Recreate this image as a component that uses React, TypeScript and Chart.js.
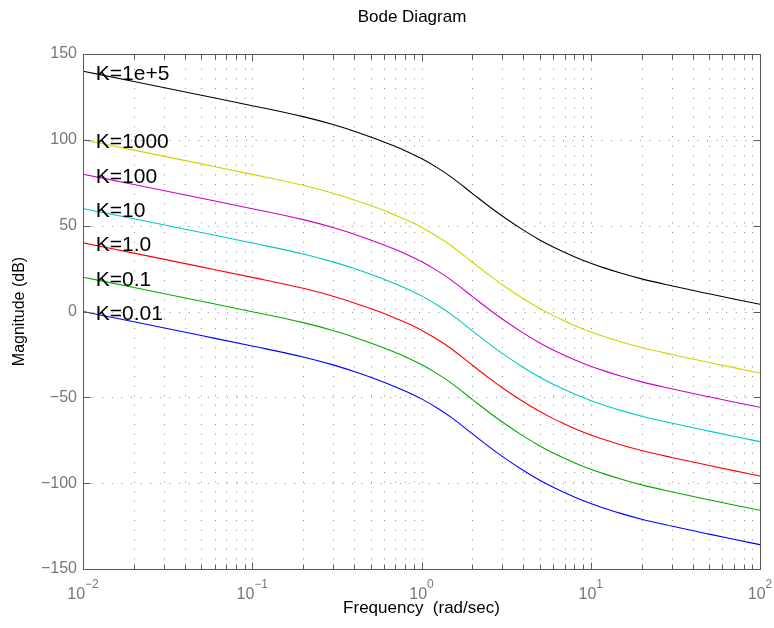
import React, { useEffect, useRef } from "react";
import { Chart, registerables } from "chart.js";

Chart.register(...registerables);

// ---- data ----
const frequencies = [0.01, 0.02, 0.05, 0.1, 0.2, 0.3, 0.4, 0.5, 0.6, 0.7, 0.8, 1, 1.25, 1.5, 2, 2.5, 3, 4, 5, 6, 7, 8, 10, 12, 15, 20, 30, 50, 70, 100];

const magK1e5 = [140.0, 134.0, 126.0, 119.9, 113.5, 108.9, 105.0, 101.7, 98.8, 96.1, 93.7, 89.1, 83.5, 78.3, 68.7, 61.3, 55.6, 47.4, 41.7, 37.6, 34.5, 31.9, 28.1, 25.4, 22.4, 19.0, 15.0, 10.3, 7.3, 4.2];
const magK1000 = [100.0, 94.0, 86.0, 79.9, 73.5, 68.9, 65.0, 61.7, 58.8, 56.1, 53.7, 49.1, 43.5, 38.3, 28.7, 21.3, 15.6, 7.4, 1.7, -2.4, -5.5, -8.1, -11.9, -14.6, -17.6, -21.0, -25.0, -29.7, -32.7, -35.8];
const magK100 = [80.0, 74.0, 66.0, 59.9, 53.5, 48.9, 45.0, 41.7, 38.8, 36.1, 33.7, 29.1, 23.5, 18.3, 8.7, 1.3, -4.4, -12.6, -18.3, -22.4, -25.5, -28.1, -31.9, -34.6, -37.6, -41.0, -45.0, -49.7, -52.7, -55.8];
const magK10 = [60.0, 54.0, 46.0, 39.9, 33.5, 28.9, 25.0, 21.7, 18.8, 16.1, 13.7, 9.1, 3.5, -1.7, -11.3, -18.7, -24.4, -32.6, -38.3, -42.4, -45.5, -48.1, -51.9, -54.6, -57.6, -61.0, -65.0, -69.7, -72.7, -75.8];
const magK1 = [40.0, 34.0, 26.0, 19.9, 13.5, 8.9, 5.0, 1.7, -1.2, -3.9, -6.3, -10.9, -16.5, -21.7, -31.3, -38.7, -44.4, -52.6, -58.3, -62.4, -65.5, -68.1, -71.9, -74.6, -77.6, -81.0, -85.0, -89.7, -92.7, -95.8];
const magK01 = [20.0, 14.0, 6.0, -0.1, -6.5, -11.1, -15.0, -18.3, -21.2, -23.9, -26.3, -30.9, -36.5, -41.7, -51.3, -58.7, -64.4, -72.6, -78.3, -82.4, -85.5, -88.1, -91.9, -94.6, -97.6, -101.0, -105.0, -109.7, -112.7, -115.8];
const magK001 = [0.0, -6.0, -14.0, -20.1, -26.5, -31.1, -35.0, -38.3, -41.2, -43.9, -46.3, -50.9, -56.5, -61.7, -71.3, -78.7, -84.4, -92.6, -98.3, -102.4, -105.5, -108.1, -111.9, -114.6, -117.6, -121.0, -125.0, -129.7, -132.7, -135.8];

const seriesNames = ["K=1e+5", "K=1000", "K=100", "K=10", "K=1.0", "K=0.1", "K=0.01"];
const seriesColors = ["#000000", "#d2d200", "#cc00cc", "#00c8c8", "#ff0000", "#00aa00", "#0000ff"];
const seriesValues = [magK1e5, magK1000, magK100, magK10, magK1, magK01, magK001];

const labelFreq = 0.0119;
const labelLevels = [138.4, 98.4, 78.4, 58.4, 38.4, 18.4, -1.6];

const yTicks = [-150, -100, -50, 0, 50, 100, 150];
const xDecadeExponents = [-2, -1, 0, 1, 2];

const titleText = "Bode Diagram";
const xTitle = "Frequency  (rad/sec)";
const yTitle = "Magnitude (dB)";

const FONT = "'Liberation Sans', Arial, Helvetica, sans-serif";

const bodePlugin = {
  id: "bodeDecor",
  beforeDatasetsDraw(chart: any) {
    const { ctx, chartArea: a, scales } = chart;
    const xs = scales.x;
    const ys = scales.y;
    ctx.save();
    ctx.strokeStyle = "#8a8a8a";
    ctx.lineWidth = 1;
    ctx.setLineDash([1, 8.6]);
    for (let d = -2; d < 2; d++) {
      for (let m = 1; m < 10; m++) {
        if (d === -2 && m === 1) continue;
        const v = m * Math.pow(10, d);
        const px = Math.round(xs.getPixelForValue(v)) + 0.5;
        ctx.beginPath();
        ctx.moveTo(px, a.bottom);
        ctx.lineTo(px, a.top);
        ctx.stroke();
      }
    }
    for (const t of yTicks) {
      if (t === yTicks[0] || t === yTicks[yTicks.length - 1]) continue;
      const py = Math.round(ys.getPixelForValue(t)) + 0.5;
      ctx.beginPath();
      ctx.moveTo(a.left, py);
      ctx.lineTo(a.right, py);
      ctx.stroke();
    }
    ctx.restore();
  },
  afterDraw(chart: any) {
    const { ctx, chartArea: a, scales } = chart;
    const xs = scales.x;
    const ys = scales.y;
    ctx.save();
    ctx.setLineDash([]);

    // series labels
    ctx.fillStyle = "#000";
    ctx.font = `21px ${FONT}`;
    ctx.textAlign = "left";
    ctx.textBaseline = "middle";
    seriesNames.forEach((n, i) => {
      ctx.fillText(n, xs.getPixelForValue(labelFreq), ys.getPixelForValue(labelLevels[i]));
    });

    // box
    ctx.strokeStyle = "#5a5a5a";
    ctx.lineWidth = 1;
    const L = Math.round(a.left) + 0.5;
    const R = Math.round(a.right) + 0.5;
    const T = Math.round(a.top) + 0.5;
    const B = Math.round(a.bottom) + 0.5;
    ctx.strokeRect(L, T, R - L, B - T);

    // x ticks
    ctx.beginPath();
    for (let d = -2; d <= 2; d++) {
      for (let m = 1; m < 10; m++) {
        if (d === 2 && m > 1) break;
        const v = m * Math.pow(10, d);
        const px = Math.round(xs.getPixelForValue(v)) + 0.5;
        const len = m === 1 ? 7 : 5;
        ctx.moveTo(px, B);
        ctx.lineTo(px, B - len);
        ctx.moveTo(px, T);
        ctx.lineTo(px, T + len);
      }
    }
    // y ticks
    for (const t of yTicks) {
      const py = Math.round(ys.getPixelForValue(t)) + 0.5;
      ctx.moveTo(L, py);
      ctx.lineTo(L + 7, py);
      ctx.moveTo(R, py);
      ctx.lineTo(R - 7, py);
    }
    ctx.stroke();

    // y tick labels
    ctx.fillStyle = "#777777";
    ctx.font = `16px ${FONT}`;
    ctx.textAlign = "right";
    ctx.textBaseline = "middle";
    for (const t of yTicks) {
      const s = t < 0 ? "\u2212" + Math.abs(t) : String(t);
      ctx.fillText(s, a.left - 6, ys.getPixelForValue(t));
    }

    // x tick labels: 10^n
    ctx.textBaseline = "alphabetic";
    ctx.textAlign = "left";
    for (const e of xDecadeExponents) {
      const px = xs.getPixelForValue(Math.pow(10, e));
      const base = "10";
      const exp = e < 0 ? "\u2212" + Math.abs(e) : String(e);
      ctx.font = `16px ${FONT}`;
      const wb = ctx.measureText(base).width;
      ctx.font = `12px ${FONT}`;
      const we = ctx.measureText(exp).width;
      const x0 = px - (wb + we) / 2;
      ctx.font = `16px ${FONT}`;
      ctx.fillText(base, x0, 599);
      ctx.font = `12px ${FONT}`;
      ctx.fillText(exp, x0 + wb, 588);
    }

    // titles
    ctx.fillStyle = "#000";
    ctx.textAlign = "center";
    ctx.textBaseline = "middle";
    ctx.font = `17px ${FONT}`;
    ctx.fillText(titleText, 412, 17);
    ctx.font = `17px ${FONT}`;
    ctx.fillText(xTitle, (a.left + a.right) / 2, 608);
    ctx.font = `16px ${FONT}`;
    ctx.translate(20, (a.top + a.bottom) / 2);
    ctx.rotate(-Math.PI / 2);
    ctx.fillText(yTitle, 0, 0);
    ctx.restore();
  },
};

export default function App() {
  const canvasRef = useRef<HTMLCanvasElement | null>(null);

  useEffect(() => {
    const canvas = canvasRef.current;
    if (!canvas) return;
    const chart = new Chart(canvas, {
      type: "line",
      data: {
        datasets: seriesValues.map((vals, i) => ({
          label: seriesNames[i],
          data: frequencies.map((f, j) => ({ x: f, y: vals[j] })),
          borderColor: seriesColors[i],
          backgroundColor: seriesColors[i],
          borderWidth: 1.1,
          pointRadius: 0,
          fill: false,
          cubicInterpolationMode: "monotone" as const,
        })),
      },
      options: {
        animation: false,
        responsive: true,
        maintainAspectRatio: false,
        layout: { padding: { left: 83, right: 14, top: 54, bottom: 59 } },
        plugins: {
          legend: { display: false },
          tooltip: { enabled: false },
          title: { display: false },
        },
        scales: {
          x: { type: "logarithmic", min: 0.01, max: 100, display: false },
          y: { type: "linear", min: -150, max: 150, display: false },
        },
      },
      plugins: [bodePlugin],
    });
    return () => chart.destroy();
  }, []);

  return (
    <div style={{ position: "fixed", left: 0, top: 0, width: 774, height: 628, background: "#fff" }}>
      <canvas ref={canvasRef} />
    </div>
  );
}
